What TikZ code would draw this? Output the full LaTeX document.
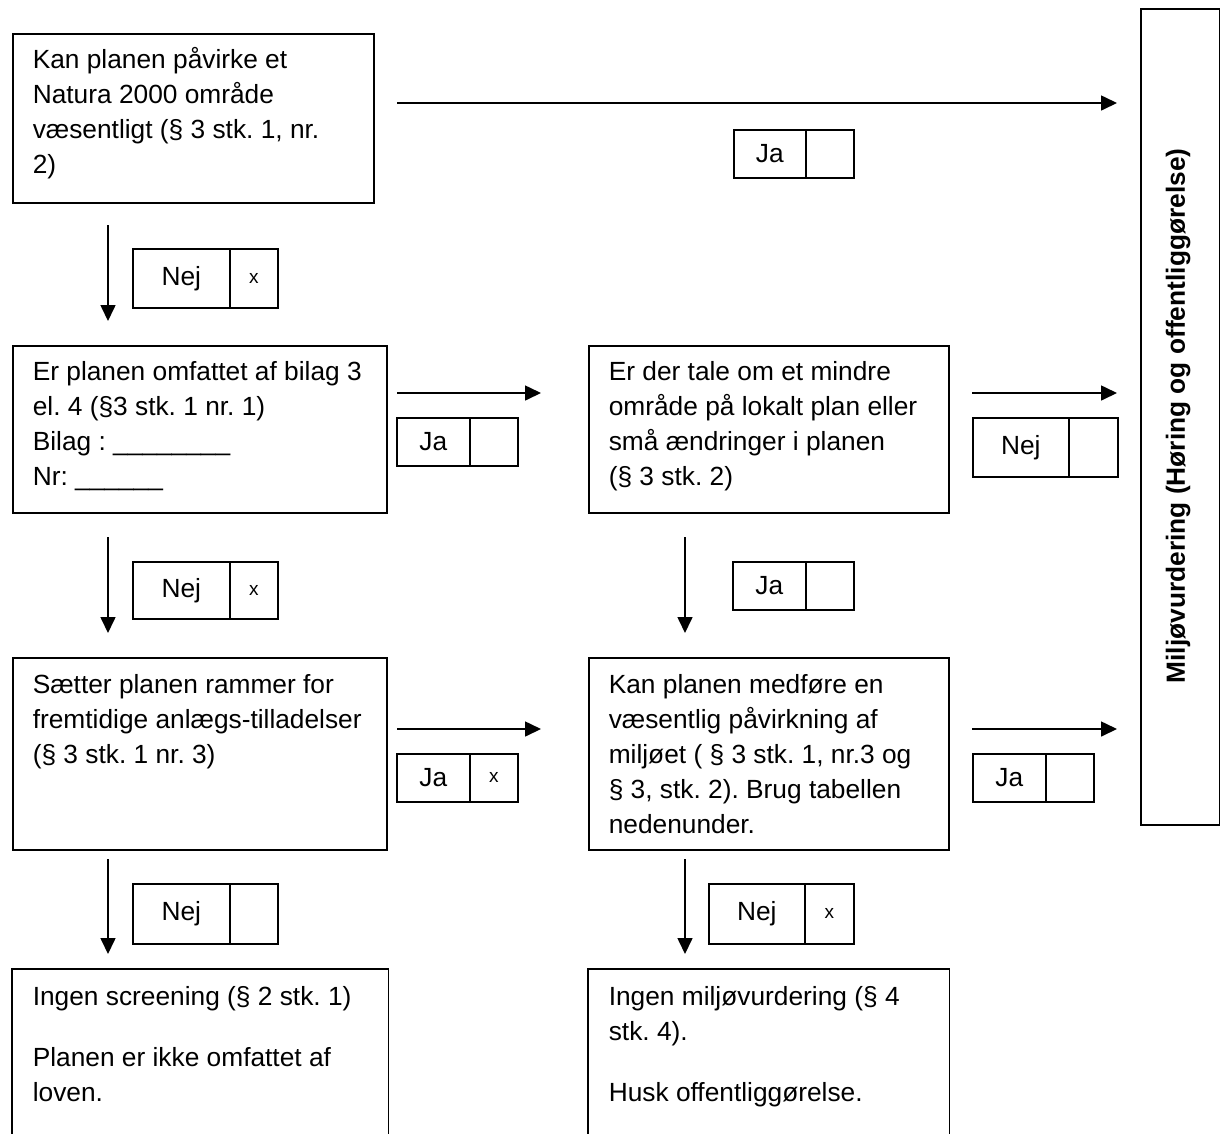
\documentclass[tikz,border=0pt]{standalone}
\usepackage{fontspec}
\setmainfont{Liberation Sans}
\usetikzlibrary{arrows.meta}
\frenchspacing
\begin{document}
\begin{tikzpicture}[x=1pt,y=-1pt,line width=1.6pt,
  box/.style={draw,rectangle,inner sep=0pt,anchor=north west},
  openbox/.style={rectangle,inner sep=0pt,anchor=north west},
  txt/.style={anchor=base west,inner sep=0pt,font=\fontsize{26.3}{35}\selectfont},
  cell/.style={draw,rectangle,inner sep=0pt,anchor=north west,font=\fontsize{26.3}{35}\selectfont},
  xcell/.style={cell,font=\fontsize{19}{20}\selectfont},
  arr/.style={-{Triangle[length=16pt,width=15pt]},line width=1.6pt},
  side/.style={rotate=90,inner sep=0pt,font=\bfseries\fontsize{26.3}{35}\selectfont}]
\useasboundingbox (0,0) rectangle (1220,1133);
% main boxes
\node[box,minimum width=361pt,minimum height=169pt] (A) at (12,33) {};
\node[box,minimum width=374pt,minimum height=167pt] (B) at (12,345) {};
\node[box,minimum width=360pt,minimum height=167pt] (C) at (588,345) {};
\node[box,minimum width=374pt,minimum height=192pt] (D) at (12,657) {};
\node[box,minimum width=360pt,minimum height=192pt] (E) at (588,657) {};
\node[openbox,minimum width=375pt,minimum height=170pt] (F) at (12,969) {};
\node[openbox,minimum width=360pt,minimum height=170pt] (G) at (588,969) {};
\draw (F.south west) |- (F.north east) -- (F.south east);
\draw (G.south west) |- (G.north east) -- (G.south east);
\node[box,minimum width=79pt,minimum height=816pt] (T) at (1140,8) {};
% texts
\node[txt] (At) at (32,68) {\parbox[t]{400pt}{Kan planen påvirke et\\Natura 2000 område\\væsentligt (§ 3 stk. 1, nr.\\2)}};
\node[txt] (Bt) at (32,380) {\parbox[t]{400pt}{Er planen omfattet af bilag 3\\el. 4 (§3 stk. 1 nr. 1)\\Bilag : \_\_\_\_\_\_\_\_\\Nr: \_\_\_\_\_\_}};
\node[txt] (Ct) at (608,380) {\parbox[t]{400pt}{Er der tale om et mindre\\område på lokalt plan eller\\små ændringer i planen\\(§ 3 stk. 2)}};
\node[txt] (Dt) at (32,693) {\parbox[t]{400pt}{Sætter planen rammer for\\fremtidige anlægs-tilladelser\\(§ 3 stk. 1 nr. 3)}};
\node[txt] (Et) at (608,693) {\parbox[t]{400pt}{Kan planen medføre en\\væsentlig påvirkning af\\miljøet ( § 3 stk. 1, nr.3 og\\§ 3, stk. 2). Brug tabellen\\nedenunder.}};
\node[txt] (Ft) at (32,1005) {\parbox[t]{400pt}{Ingen screening (§ 2 stk. 1)\\[26pt]Planen er ikke omfattet af\\loven.}};
\node[txt] (Gt) at (608,1005) {\parbox[t]{400pt}{Ingen miljøvurdering (§ 4\\stk. 4).\\[26pt]Husk offentliggørelse.}};
\node[side] (Tt) at (1178,416) {Miljøvurdering (Høring og offentliggørelse)};
% answer cells
\node[cell,minimum width=72pt,minimum height=48pt] (j1a) at (733,129) {Ja};
\node[cell,minimum width=48pt,minimum height=48pt] (j1b) at (805,129) {};
\node[cell,minimum width=97pt,minimum height=59pt] (n1a) at (132,248) {Nej};
\node[xcell,minimum width=48pt,minimum height=59pt] (n1b) at (229,248) {x};
\node[cell,minimum width=73pt,minimum height=48pt] (j2a) at (396,417) {Ja};
\node[cell,minimum width=48pt,minimum height=48pt] (j2b) at (469,417) {};
\node[cell,minimum width=96pt,minimum height=59pt] (n2a) at (972,417) {Nej};
\node[cell,minimum width=49pt,minimum height=59pt] (n2b) at (1068,417) {};
\node[cell,minimum width=97pt,minimum height=57pt] (n3a) at (132,561) {Nej};
\node[xcell,minimum width=48pt,minimum height=57pt] (n3b) at (229,561) {x};
\node[cell,minimum width=73pt,minimum height=48pt] (j3a) at (732,561) {Ja};
\node[cell,minimum width=48pt,minimum height=48pt] (j3b) at (805,561) {};
\node[cell,minimum width=73pt,minimum height=48pt] (j4a) at (396,753) {Ja};
\node[xcell,minimum width=48pt,minimum height=48pt] (j4b) at (469,753) {x};
\node[cell,minimum width=73pt,minimum height=48pt] (j5a) at (972,753) {Ja};
\node[cell,minimum width=48pt,minimum height=48pt] (j5b) at (1045,753) {};
\node[cell,minimum width=97pt,minimum height=60pt] (n4a) at (132,883) {Nej};
\node[cell,minimum width=48pt,minimum height=60pt] (n4b) at (229,883) {};
\node[cell,minimum width=96pt,minimum height=60pt] (n5a) at (708,883) {Nej};
\node[xcell,minimum width=49pt,minimum height=60pt] (n5b) at (804,883) {x};
% connectors
\coordinate (s1) at (397,103);  \coordinate (e1) at (1117,103);
\coordinate (s2) at (108,225);  \coordinate (e2) at (108,321);
\coordinate (s3) at (397,393);  \coordinate (e3) at (541,393);
\coordinate (s4) at (972,393);  \coordinate (e4) at (1117,393);
\coordinate (s5) at (108,537);  \coordinate (e5) at (108,633);
\coordinate (s6) at (685,537);  \coordinate (e6) at (685,633);
\coordinate (s7) at (397,729);  \coordinate (e7) at (541,729);
\coordinate (s8) at (972,729);  \coordinate (e8) at (1117,729);
\coordinate (s9) at (108,859);  \coordinate (e9) at (108,954);
\coordinate (s10) at (685,859); \coordinate (e10) at (685,954);
\foreach \i in {1,...,10} {\draw[arr] (s\i) -- (e\i);}
\end{tikzpicture}
\end{document}
